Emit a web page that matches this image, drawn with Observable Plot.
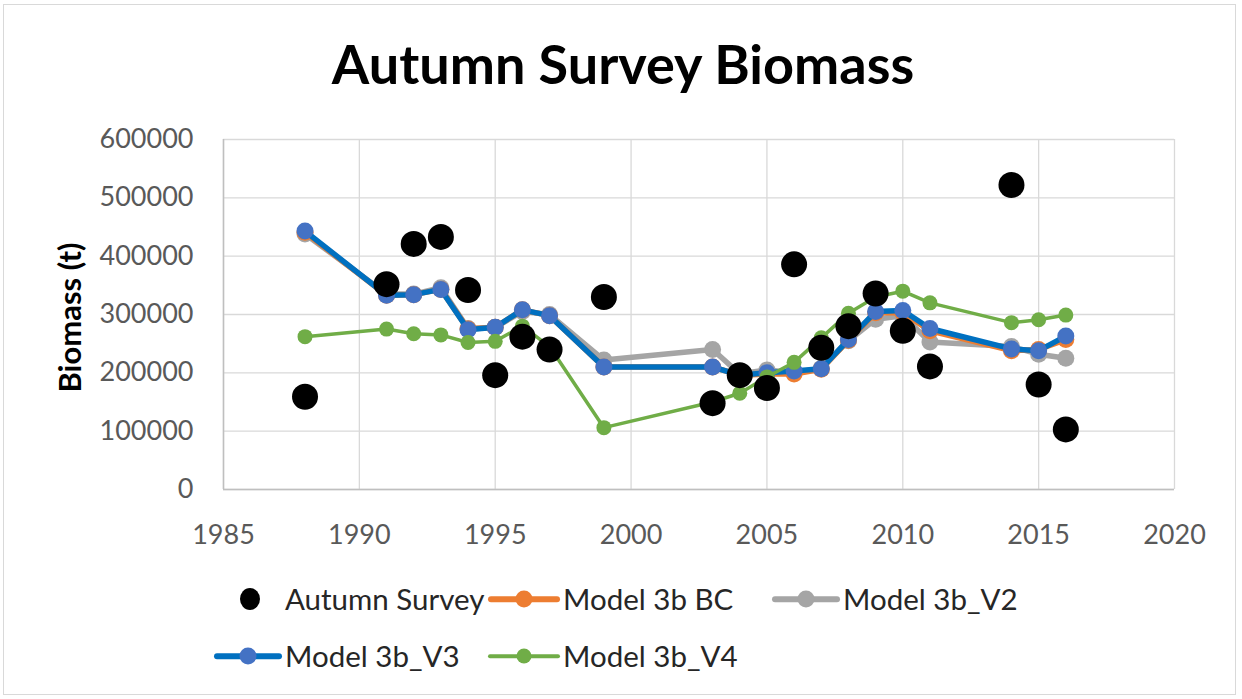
<!DOCTYPE html>
<html>
<head>
<meta charset="utf-8">
<script src="https://cdn.jsdelivr.net/npm/d3@7"></script>
<script src="https://cdn.jsdelivr.net/npm/@observablehq/plot@0.6"></script>
<style>
  html, body { margin: 0; padding: 0; background: #fff; }
  #wrap { position: relative; width: 1242px; height: 699px; overflow: hidden; font-family: Lato, "Open Sans", sans-serif; }
  #border { position: absolute; left: 3px; top: 4px; width: 1233px; height: 691px; border: 1px solid #d9d9d9; box-sizing: border-box; }
  #title { position: absolute; left: 0; width: 1246px; text-align: center; top: 32px; font-size: 54px; font-weight: bold; line-height: 1.2; color: #000; }
  #chart { position: absolute; left: 0; top: 110px; }
  .leg { position: absolute; font-size: 29.5px; line-height: 1.2; color: #262626; white-space: nowrap; }
  .sw { position: absolute; }
  .sw .ln { position: absolute; left: 0; right: 0; top: 50%; transform: translateY(-50%); }
  .sw .mk { position: absolute; left: 50%; top: 50%; transform: translate(-50%, -50%); border-radius: 50%; }
</style>
</head>
<body>
<div id="wrap">
  <div id="border"></div>
  <div id="title">Autumn Survey Biomass</div>
  <div id="chart"></div>
  <div id="legend"></div>
</div>
<script>
// ---- data ----
const years = [1988, 1991, 1992, 1993, 1994, 1995, 1996, 1997, 1999, 2003, 2004, 2005, 2006, 2007, 2008, 2009, 2010, 2011, 2014, 2015, 2016];
const autumnSurvey = [159000, 352000, 421000, 433000, 342000, 196000, 262000, 240000, 330000, 148000, 196000, 174000, 386000, 243000, 280000, 336000, 272000, 211000, 522000, 180000, 103000];
const model3bBC    = [441000, 333000, 334000, 343000, 275000, 278000, 308000, 298000, 210000, 210000, 196000, 198000, 198000, 206000, 256000, 303000, 303000, 272000, 238000, 240000, 257000];
const model3bV2    = [438000, 335000, 335000, 346000, 276000, 278000, 305000, 300000, 222000, 240000, 198000, 205000, 200000, 208000, 255000, 292000, 298000, 253000, 245000, 232000, 225000];
const model3bV3    = [443000, 333000, 334000, 343000, 274000, 278000, 308000, 298000, 210000, 210000, 196000, 200000, 203000, 207000, 257000, 305000, 307000, 276000, 241000, 238000, 263000];
const model3bV4    = [262000, 275000, 267000, 265000, 252000, 254000, 280000, 245000, 106000, 150000, 165000, 193000, 218000, 260000, 302000, 330000, 340000, 320000, 286000, 291000, 299000];
const xTicks = [1985, 1990, 1995, 2000, 2005, 2010, 2015, 2020];
const yTicks = [0, 100000, 200000, 300000, 400000, 500000, 600000];
const yLabel = "Biomass (t)";

const seriesStyle = {
  "Autumn Survey": {line: null, lineWidth: 0, marker: "#000000", r: 13},
  "Model 3b BC":   {line: "#ED7D31", lineWidth: 5.5, marker: "#ED7D31", r: 8.5},
  "Model 3b_V2":   {line: "#A5A5A5", lineWidth: 5.5, marker: "#A5A5A5", r: 8.5},
  "Model 3b_V3":   {line: "#0070C0", lineWidth: 5.5, marker: "#4472C4", r: 8.5},
  "Model 3b_V4":   {line: "#70AD47", lineWidth: 3.5, marker: "#70AD47", r: 7.5}
};
const seriesValues = {
  "Autumn Survey": autumnSurvey,
  "Model 3b BC": model3bBC,
  "Model 3b_V2": model3bV2,
  "Model 3b_V3": model3bV3,
  "Model 3b_V4": model3bV4
};
const table = name => years.map((year, i) => ({year, value: seriesValues[name][i], series: name}));

const drawOrder = ["Model 3b_V2", "Model 3b BC", "Model 3b_V3", "Model 3b_V4", "Autumn Survey"];
const seriesMarks = [];
for (const name of drawOrder) {
  const st = seriesStyle[name];
  const data = table(name);
  if (st.line) seriesMarks.push(Plot.line(data, {x: "year", y: "value", stroke: st.line, strokeWidth: st.lineWidth, strokeLinejoin: "round"}));
  seriesMarks.push(Plot.dot(data, {x: "year", y: "value", r: st.r, fill: st.marker, stroke: "none"}));
}

const chart = Plot.plot({
  width: 1242,
  height: 450,
  marginTop: 29,
  marginBottom: 71,
  marginLeft: 223,
  marginRight: 68,
  style: {fontFamily: "Lato, 'Open Sans', sans-serif", fontSize: "27px", color: "#595959", background: "transparent", overflow: "visible"},
  x: {domain: [1985, 2020]},
  y: {domain: [0, 600000]},
  marks: [
    Plot.gridX(xTicks, {stroke: "#d9d9d9", strokeOpacity: 1, strokeWidth: 1.3}),
    Plot.gridY(yTicks, {stroke: "#d9d9d9", strokeOpacity: 1, strokeWidth: 1.3}),
    Plot.ruleY([0], {stroke: "#bfbfbf", strokeWidth: 1.5}),
    Plot.ruleX([1985], {stroke: "#bfbfbf", strokeWidth: 1.5}),
    Plot.axisX(xTicks, {tickSize: 0, tickPadding: 35, tickFormat: d => String(d), label: null, fill: "#595959"}),
    Plot.axisY(yTicks, {tickSize: 0, tickPadding: 30, tickFormat: d => String(d), label: null, fill: "#595959"}),
    Plot.text([yLabel], {frameAnchor: "left", textAnchor: "middle", dx: -152, dy: 3, rotate: -90, fontWeight: "bold", fontSize: 31, fill: "#000"}),
    ...seriesMarks
  ]
});
document.getElementById("chart").appendChild(chart);

// ---- legend (HTML) ----
const legendItems = [
  {name: "Autumn Survey", row: 599, swL: 232, swW: 36, textL: 285},
  {name: "Model 3b BC",   row: 599, swL: 488, swW: 72, textL: 563},
  {name: "Model 3b_V2",   row: 599, swL: 772, swW: 68, textL: 843},
  {name: "Model 3b_V3",   row: 656, swL: 214, swW: 68, textL: 285},
  {name: "Model 3b_V4",   row: 656, swL: 488, swW: 72, textL: 563}
];
const legend = document.getElementById("legend");
for (const it of legendItems) {
  const st = seriesStyle[it.name];
  const sw = document.createElement("div");
  sw.className = "sw";
  sw.style.left = it.swL + "px";
  sw.style.width = it.swW + "px";
  sw.style.top = (it.row - 15) + "px";
  sw.style.height = "30px";
  if (st.line) {
    const ln = document.createElement("div");
    ln.className = "ln";
    ln.style.height = st.lineWidth + "px";
    ln.style.background = st.line;
    ln.style.borderRadius = "3px";
    sw.appendChild(ln);
  }
  const mk = document.createElement("div");
  mk.className = "mk";
  const d = st.line ? 2 * st.r : 20;
  mk.style.width = d + "px";
  mk.style.height = (st.line ? d : 22) + "px";
  mk.style.background = st.marker;
  sw.appendChild(mk);
  legend.appendChild(sw);
  const tx = document.createElement("div");
  tx.className = "leg";
  tx.textContent = it.name;
  tx.style.left = it.textL + "px";
  tx.style.top = (it.row - 18) + "px";
  legend.appendChild(tx);
}
</script>
</body>
</html>
